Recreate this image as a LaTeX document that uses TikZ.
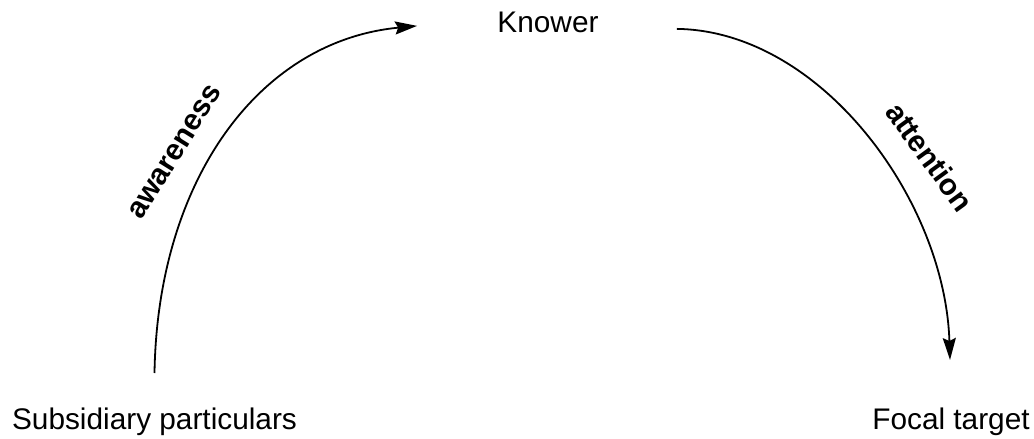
\documentclass[tikz,border=0pt]{standalone}
\usepackage{fontspec}
\setmainfont{Liberation Sans}
\usepackage{tikz}
\usetikzlibrary{arrows.meta,calc}

\begin{document}
\begin{tikzpicture}[
  x=0.5pt, y=0.5pt,
  font=\fontsize{14.9}{18}\selectfont,
  lbl/.style={inner sep=0pt, anchor=base},
  tag/.style={inner sep=0pt, font=\fontsize{14.9}{18}\selectfont\bfseries},
  arr/.style={-{Stealth[length=11pt, width=6.5pt, inset=1.5pt]}, line width=0.9pt}
]
\useasboundingbox (0,0) rectangle (1034,439);

\node[lbl] (sub) at (154.5,9) {Subsidiary particulars};
\node[lbl] (knower) at (548,406) {Knower};
\node[lbl] (focal) at (951,9) {Focal target};

% the two arcs through the knower
\draw[arr] ($(sub.north)+(0,35)$) .. controls +(3,193) and +(-158,-15) .. ($(knower.west)+(-80,-3)$);
\draw[arr] ($(knower.east)+(78,-6)$) .. controls +(144,-2) and +(-5,160) .. ($(focal.north)+(-1,48)$);

\node[tag, rotate=58] (aware) at (175,287) {awareness};
\node[tag, rotate=-54] (attend) at (930,282) {attention};
\end{tikzpicture}
\end{document}
